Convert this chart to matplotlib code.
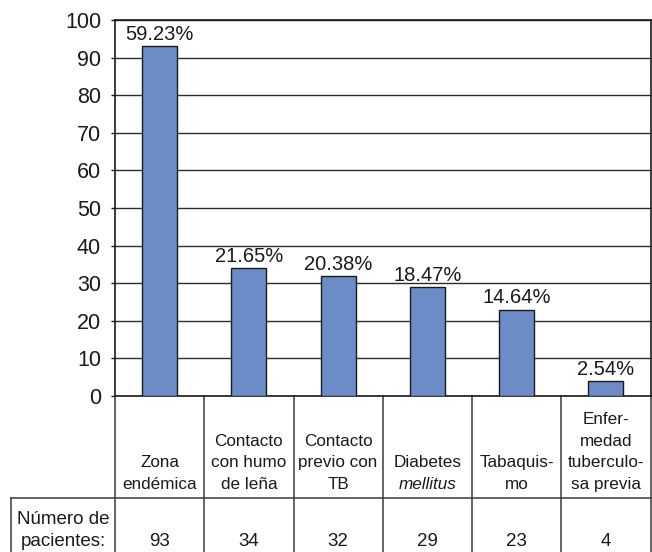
import matplotlib.pyplot as plt
from matplotlib.transforms import blended_transform_factory

plt.rcParams['font.family'] = ['Liberation Sans', 'DejaVu Sans']

# Data
categories = ["Zona\nendémica", "Contacto\ncon humo\nde leña", "Contacto\nprevio con\nTB",
              "Diabetes", "Tabaquis-\nmo", "Enfer-\nmedad\ntuberculo-\nsa previa"]
italic_tail = ["", "", "", "mellitus", "", ""]
patients = [93, 34, 32, 29, 23, 4]
percentages = ["59.23%", "21.65%", "20.38%", "18.47%", "14.64%", "2.54%"]
row_header = "Número de\npacientes:"
y_ticks = list(range(0, 101, 10))

W, H = 652, 552
fig = plt.figure(figsize=(W / 100, H / 100), dpi=100)
ax = fig.add_axes([115 / W, 1 - 396 / H, 535.5 / W, 376 / H])

x = list(range(len(patients)))
ax.bar(x, patients, width=0.39, color='#6b8cc7', edgecolor='#1a1a1a', linewidth=1.0, zorder=3)

for i, (v, p) in enumerate(zip(patients, percentages)):
    ax.annotate(p, (i, v), xytext=(0, 1.5), textcoords='offset points',
                ha='center', va='bottom', fontsize=14.5, color='#1a1a1a')

ax.set_xlim(-0.5, len(patients) - 0.5)
ax.set_ylim(0, 100)
ax.set_yticks(y_ticks)
ax.set_xticks([])
ax.yaxis.grid(True, color='#2b2b2b', linewidth=1.0)
ax.set_axisbelow(True)
ax.tick_params(axis='y', direction='out', length=3, width=1, labelsize=15.5, pad=7,
               colors='#1a1a1a')
for s in ax.spines.values():
    s.set_color('#1a1a1a')
    s.set_linewidth(1.2)

# table below the axis
trans = blended_transform_factory(ax.transData, ax.transAxes)
y_bottom = -0.42
y_row = (396 - 498) / 376
lc = '#3a3a3a'
for b in [i - 0.5 for i in range(len(patients) + 1)]:
    ax.plot([b, b], [0, y_bottom], transform=trans, clip_on=False, color=lc, lw=1.1)
hdr_left = (11 - 115) / 535.5
ax.plot([hdr_left, 1], [y_row, y_row], transform=ax.transAxes, clip_on=False, color=lc, lw=1.1)
ax.plot([hdr_left, hdr_left], [y_row, y_bottom], transform=ax.transAxes, clip_on=False,
        color=lc, lw=1.1)

y_cat = (396 - 489) / 376
y_num = (396 - 546) / 376
line_pt = 15.6  # one text line, in points
for i, (c, it, n) in enumerate(zip(categories, italic_tail, patients)):
    shift = line_pt if it else 0
    ax.annotate(c, (i, y_cat), xycoords=trans, xytext=(0, shift), textcoords='offset points',
                ha='center', va='baseline', fontsize=12.3, linespacing=1.55,
                color='#1a1a1a', annotation_clip=False)
    if it:
        ax.text(i, y_cat, it, transform=trans, ha='center', va='baseline', fontsize=12.3,
                style='italic', color='#1a1a1a')
    ax.text(i, y_num, str(n), transform=trans, ha='center', va='baseline', fontsize=13.5,
            color='#1a1a1a')

ax.text((hdr_left + 0) / 2, y_num, row_header, transform=ax.transAxes, ha='center',
        va='baseline', fontsize=13.5, linespacing=1.4, color='#1a1a1a')

fig.savefig('out.png', dpi=100)
